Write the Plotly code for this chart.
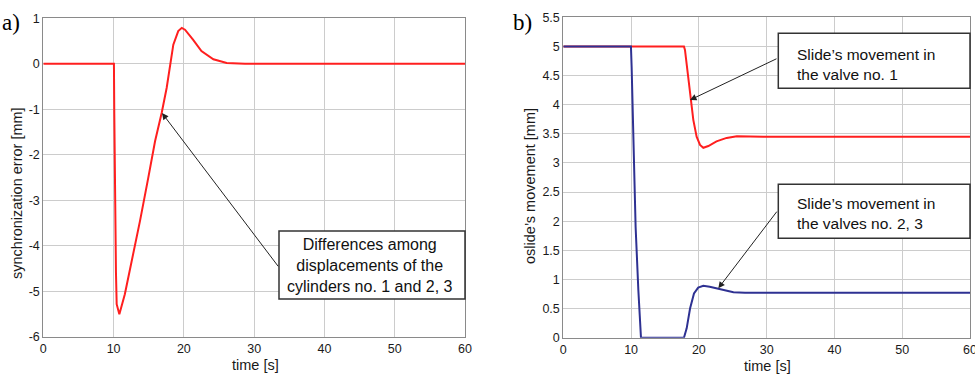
import plotly.graph_objects as go

# ---- data ----
t_err = [0, 10.05, 10.1, 10.2, 10.34, 10.44, 10.82, 11.6, 12.8, 13.76, 14.94, 15.9,
         16.84, 17.55, 18.5, 19.2, 19.7, 20.16, 21.3, 22.5, 24.2, 26.1, 28.7, 60]
err = [0, 0, -1.1, -2.98, -4.59, -5.28, -5.5, -5.06, -4.18, -3.45, -2.5, -1.7,
       -1.08, -0.53, 0.42, 0.72, 0.79, 0.75, 0.53, 0.28, 0.1, 0.02, 0, 0]

t_v1 = [0, 17.8, 17.95, 18.2, 18.54, 18.84, 19.18, 19.67, 20.17, 20.66, 21.4, 22.6,
        24.1, 25.6, 29.5, 60]
v1 = [5, 5, 4.94, 4.71, 4.31, 4.08, 3.74, 3.45, 3.31, 3.26, 3.29, 3.37,
      3.43, 3.46, 3.45, 3.45]

t_v23 = [0, 9.98, 10.08, 10.33, 10.48, 10.67, 11.07, 11.46, 17.8, 18.2, 18.7, 19.28,
         19.9, 20.66, 21.6, 23.1, 25.1, 26.8, 60]
v23 = [5, 5, 4.65, 3.34, 2.59, 1.9, 0.82, 0, 0, 0.16, 0.5, 0.76,
       0.86, 0.89, 0.876, 0.83, 0.78, 0.77, 0.77]

x_ticks = [0, 10, 20, 30, 40, 50, 60]
x_labels = ["0", "10", "20", "30", "40", "50", "60"]
y1_ticks = [-6, -5, -4, -3, -2, -1, 0, 1]
y1_labels = ["-6", "-5", "-4", "-3", "-2", "-1", "0", "1"]
y2_ticks = [0, 0.5, 1, 1.5, 2, 2.5, 3, 3.5, 4, 4.5, 5, 5.5]
y2_labels = ["0", "0.5", "1", "1.5", "2", "2.5", "3", "3.5", "4", "4.5", "5", "5.5"]

RED = "#ff1f1f"
BLUE = "#2e3192"
FONT = "Liberation Sans, Arial, sans-serif"

fig = go.Figure()
fig.add_trace(go.Scatter(x=t_err, y=err, mode="lines", line=dict(color=RED, width=2),
                         xaxis="x", yaxis="y", showlegend=False))
fig.add_trace(go.Scatter(x=t_v1, y=v1, mode="lines", line=dict(color=RED, width=2),
                         xaxis="x2", yaxis="y2", showlegend=False))
fig.add_trace(go.Scatter(x=t_v23, y=v23, mode="lines", line=dict(color=BLUE, width=2),
                         xaxis="x2", yaxis="y2", showlegend=False))

ax_common = dict(showline=True, linecolor="#8a8a8a", linewidth=1, mirror=True,
                 showgrid=True, gridcolor="#cccccc", gridwidth=1, zeroline=False,
                 ticks="", tickfont=dict(size=12.5, color="#1a1a1a", family=FONT),
                 automargin=False, ticklabeloverflow="allow")

fig.update_layout(
    width=975, height=374,
    margin=dict(l=0, r=0, t=0, b=0),
    paper_bgcolor="white", plot_bgcolor="white",
    font=dict(family=FONT, color="#1a1a1a"),
    xaxis=dict(domain=[43.3 / 975, 465 / 975], range=[0, 60], tickvals=x_ticks,
               ticktext=x_labels, anchor="y", **ax_common),
    yaxis=dict(domain=[(374 - 337) / 374, (374 - 18.3) / 374], range=[-6, 1],
               tickvals=y1_ticks, ticktext=y1_labels, anchor="x", **ax_common),
    xaxis2=dict(domain=[563.3 / 975, 970 / 975], range=[0, 60], tickvals=x_ticks,
                ticktext=x_labels, anchor="y2", **ax_common),
    yaxis2=dict(domain=[(374 - 337.7) / 374, (374 - 17.3) / 374], range=[0, 5.5],
                tickvals=y2_ticks, ticktext=y2_labels, anchor="x2", **ax_common),
)

# axis titles
titles = [("time [s]", 255, 365, 0), ("time [s]", 767.5, 365.5, 0),
          ("synchronization error [mm]", 17, 193, -90),
          ("oslide\u2019s movement [mm]", 530, 186, -90)]
for txt, px, py, ang in titles:
    fig.add_annotation(xref="paper", yref="paper", x=px / 975, y=(374 - py) / 374,
                       xanchor="center", yanchor="middle", showarrow=False, text=txt,
                       textangle=ang, font=dict(size=14.5, color="#1a1a1a", family=FONT))

# boxes
box_line = dict(color="#333333", width=1.5)
for x0, x1, y0, y1 in [(279, 465, 231, 299), (778.3, 970, 33.3, 88.3), (778.3, 970, 184.3, 238.3)]:
    fig.add_shape(type="rect", xref="paper", yref="paper",
                  x0=x0 / 975, x1=x1 / 975, y0=(374 - y1) / 374, y1=(374 - y0) / 374,
                  line=box_line, fillcolor="white", layer="above")

# arrows (tail -> head in data coordinates)
arrows = [("x", "y", 33.58, -4.48, 16.89, -1.08),
          ("x2", "y2", 31.67, 4.80, 18.69, 4.08),
          ("x2", "y2", 31.67, 2.19, 22.87, 0.848)]
for xr, yr, ax_, ay_, x_, y_ in arrows:
    fig.add_annotation(xref=xr, yref=yr, axref=xr, ayref=yr, x=x_, y=y_, ax=ax_, ay=ay_,
                       text="", showarrow=True, arrowhead=2, arrowsize=1.3, arrowwidth=1,
                       arrowcolor="#222", standoff=0, startstandoff=0)

# box texts
fig.add_annotation(xref="paper", yref="paper", x=370 / 975, y=(374 - 265.5) / 374,
                   xanchor="center", yanchor="middle", showarrow=False, align="center",
                   text="Differences among<br>displacements of the<br>cylinders no. 1 and 2, 3",
                   font=dict(size=16, color="#111", family=FONT))
fig.add_annotation(xref="paper", yref="paper", x=795 / 975, y=(374 - 64) / 374,
                   xanchor="left", yanchor="middle", showarrow=False, align="left",
                   text="Slide\u2019s movement in<br>the valve no. 1",
                   font=dict(size=15.5, color="#111", family=FONT))
fig.add_annotation(xref="paper", yref="paper", x=795 / 975, y=(374 - 213) / 374,
                   xanchor="left", yanchor="middle", showarrow=False, align="left",
                   text="Slide\u2019s movement in<br>the valves no. 2, 3",
                   font=dict(size=15.5, color="#111", family=FONT))

# panel labels
for lbl, px in [("a)", 0), ("b)", 511)]:
    fig.add_annotation(xref="paper", yref="paper", x=px / 975, y=(374 - 22) / 374,
                       xanchor="left", yanchor="middle", showarrow=False, text=lbl,
                       font=dict(size=23, color="black",
                                 family="Liberation Serif, Times New Roman, serif"))

fig.write_html("out.html", config={"displayModeBar": False},
               post_script="document.body.style.margin='0';document.body.style.overflow='hidden';")
